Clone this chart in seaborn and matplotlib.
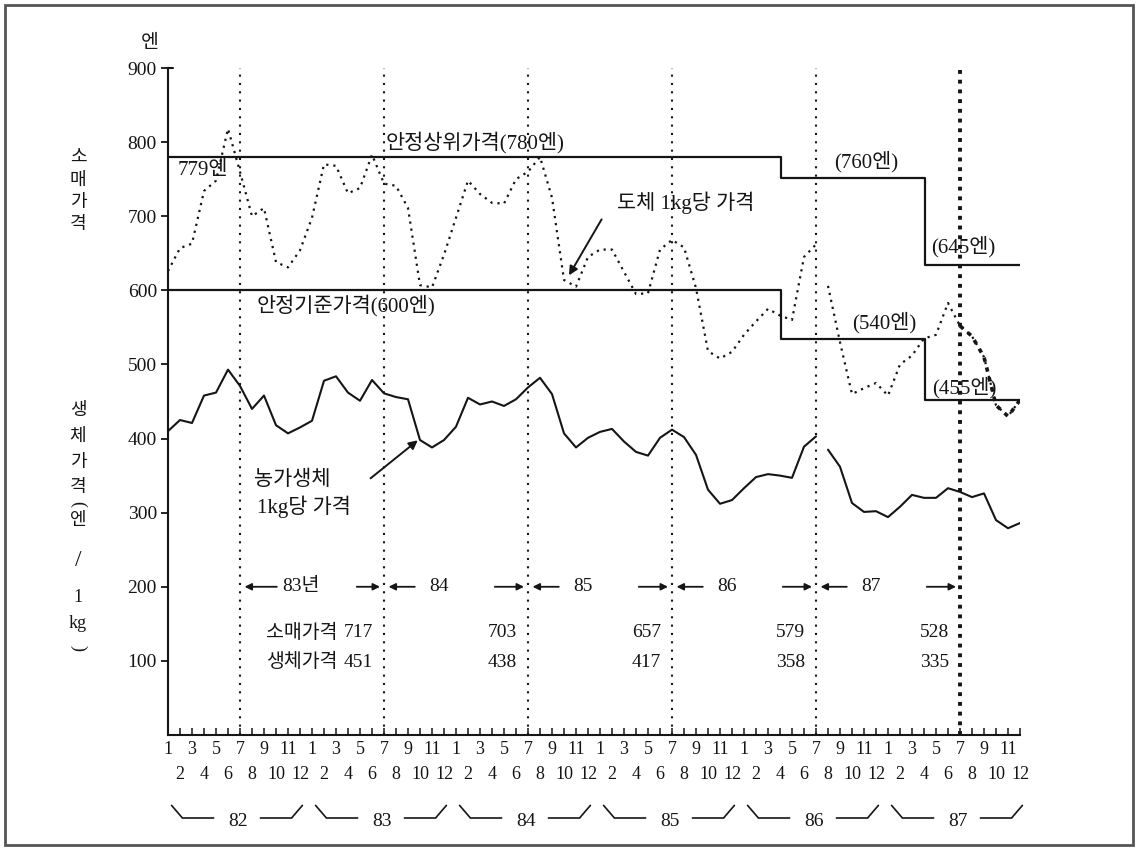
import numpy as np
import pandas as pd
import matplotlib.pyplot as plt
import seaborn as sns

# monthly prices, Jan 1982 .. Dec 1987 (엔)
year_names = ["82", "83", "84", "85", "86", "87"]
month_names = [str(m) for m in range(1, 13)]

# 도체 1kg당 가격 (retail, dotted)
retail = [626, 657, 663, 734, 748, 818, 760, 700, 711, 638, 631, 654,
          698, 770, 768, 731, 738, 783, 744, 741, 711, 607, 604, 648,
          698, 748, 730, 718, 717, 750, 760, 780, 725, 614, 605, 645,
          655, 655, 625, 595, 596, 655, 668, 658, 603, 518, 508, 517,
          540, 558, 575, 566, 560, 645, 662, 606, 530, 460, 468, 475,
          458, 500, 512, 535, 540, 583, 552, 538, 510, 445, 430, 452]

# 농가생체 1kg당 가격 (live weight, solid)
live = [410, 425, 421, 458, 462, 493, 471, 440, 458, 418, 407, 415,
        424, 478, 484, 462, 451, 479, 461, 456, 453, 398, 388, 398,
        416, 455, 446, 450, 444, 453, 469, 482, 460, 407, 388, 401,
        409, 413, 396, 382, 377, 401, 412, 402, 378, 331, 312, 317,
        333, 348, 352, 350, 347, 389, 403, 385, 362, 313, 301, 302,
        294, 308, 324, 320, 320, 333, 328, 321, 326, 290, 279, 286]

# 안정가격 steps (upper / lower), change points in month index
step_x = [0, 51.1, 63.1, 71]
upper_step = [780, 752, 634]
lower_step = [600, 535, 452]

# yearly averages (Jul..Jun)
avg_names = ["83년", "84", "85", "86", "87"]
avg_retail = [717, 703, 657, 579, 528]
avg_live = [451, 438, 417, 358, 335]

BREAK = 55  # lines are broken between 86-7 and 86-8

n = len(retail)
df = pd.DataFrame({
    "idx": np.arange(n),
    "retail": retail,
    "live": live,
    "seg": [0] * BREAK + [1] * (n - BREAK),
})

sns.set_theme(style="white")
plt.rcParams["font.family"] = ["Liberation Serif", "Noto Sans CJK KR"]
INK = "#151515"

fig = plt.figure(figsize=(11.39, 8.5), dpi=100)
ax = fig.add_axes([168 / 1139, 115 / 850, 852 / 1139, 667 / 850])
ax.set_xlim(0, 71)
ax.set_ylim(0, 900)

# price series
sns.lineplot(data=df, x="idx", y="live", units="seg", estimator=None,
             color=INK, lw=1.5, ax=ax)
sns.lineplot(data=df, x="idx", y="retail", units="seg", estimator=None,
             color=INK, lw=1.6, linestyle=(0, (1, 2.2)), ax=ax)
sns.lineplot(data=df[df.idx >= 66], x="idx", y="retail", estimator=None,
             color=INK, lw=2.6, linestyle=(0, (1.2, 1.6)), ax=ax)

# stabilisation price steps
ax.step(step_x, upper_step + upper_step[-1:], where="post", color=INK, lw=1.6)
ax.step(step_x, lower_step + lower_step[-1:], where="post", color=INK, lw=1.6)

# July dividers
july = [6 + 12 * k for k in range(len(year_names))]
for k, xv in enumerate(july):
    bold = k == len(july) - 1
    ax.axvline(xv, color=INK, lw=2.8 if bold else 1.5,
               ls=(0, (1, 1.5)) if bold else (0, (1, 3)))

# axes cosmetics
sns.despine(ax=ax)
for s in ["left", "bottom"]:
    ax.spines[s].set_linewidth(1.5)
    ax.spines[s].set_color(INK)
ax.set_xlabel("")
ax.set_ylabel("")
ax.set_yticks(range(100, 1000, 100), labels=[str(v) for v in range(100, 1000, 100)])
ax.tick_params(axis="y", direction="out", length=5, width=1.3, labelsize=14,
               pad=3, colors=INK, left=True)
ax.plot([0, 0.45], [900, 900], color=INK, lw=1.5, clip_on=False)

odd = list(range(0, n, 2))
even = list(range(1, n, 2))
ax.set_xticks(odd, labels=[month_names[i % 12] for i in odd])
ax.set_xticks(even, labels=[month_names[i % 12] for i in even], minor=True)
ax.tick_params(axis="x", which="both", direction="in", length=5, width=1.1,
               labelsize=13, colors=INK, bottom=True)
ax.tick_params(axis="x", which="major", pad=4)
ax.tick_params(axis="x", which="minor", pad=22)

# year brackets under the axis
for k, yr in enumerate(year_names):
    x0 = 12 * k
    ax.plot([x0 + 0.3, x0 + 1.2, x0 + 3.8], [-95, -112, -112], color=INK,
            lw=1.2, clip_on=False)
    ax.plot([x0 + 7.7, x0 + 10.3, x0 + 11.2], [-112, -112, -95], color=INK,
            lw=1.2, clip_on=False)
    ax.text(x0 + 5.8, -117, yr, ha="center", va="center", fontsize=14,
            color=INK, clip_on=False)

# text labels on the plot
tk = dict(fontsize=15, color=INK, va="center")
ax.text(0.8, 762, "779엔", **tk)
ax.text(18.1, 800, "안정상위가격(780엔)", **tk)
ax.text(7.4, 580, "안정기준가격(600엔)", **tk)
ax.text(55.5, 773, "(760엔)", **tk)
ax.text(63.6, 659, "(645엔)", **tk)
ax.text(57.0, 557, "(540엔)", **tk)
ax.text(63.65, 468, "(455엔)", **tk)
ax.text(37.4, 718, "도체 1kg당 가격", **tk)
ax.text(7.2, 344, "농가생체", **tk)
ax.text(7.4, 308, "1kg당 가격", **tk)

arr = dict(arrowstyle="-|>", color=INK, lw=1.4, mutation_scale=13)
ax.annotate("", xy=(33.3, 617), xytext=(36.25, 699), arrowprops=arr)
ax.annotate("", xy=(21.0, 400), xytext=(16.7, 344), arrowprops=arr)

# yearly average block
small = dict(arrowstyle="-|>", color=INK, lw=1.3, mutation_scale=10)
for k, name in enumerate(avg_names):
    left, right = july[k], july[k + 1]
    tx = left + 5.1 if k == 0 else left + 4.6
    ax.text(tx, 200, name, ha="center", va="center", fontsize=14, color=INK)
    ax.annotate("", xy=(left + 0.15, 200), xytext=(tx - 1.8, 200), arrowprops=small)
    ax.annotate("", xy=(right - 0.1, 200), xytext=(tx + 4.4, 200), arrowprops=small)
    ax.text(right - 0.9, 138, str(avg_retail[k]), ha="right", va="center",
            fontsize=14, color=INK)
    ax.text(right - 0.9, 98, str(avg_live[k]), ha="right", va="center",
            fontsize=14, color=INK)
ax.text(july[1] - 3.9, 138, "소매가격", ha="right", va="center", fontsize=14, color=INK)
ax.text(july[1] - 3.9, 98, "생체가격", ha="right", va="center", fontsize=14, color=INK)

# axis captions (vertical stacked)
def ftext(px, py, s, rot=0, size=13):
    fig.text(px / 1139, 1 - py / 850, s, ha="center", va="center",
             fontsize=size, color=INK, rotation=rot)

ftext(150, 43, "엔", size=14)
for ch, py in zip("소매가격", [158, 180, 203, 225]):
    ftext(78, py, ch)
cap = [("생", 410, 0), ("체", 436, 0), ("가", 462, 0), ("격", 487, 0),
       ("(", 504, -90), ("엔", 521, 0), ("/", 560, 0), ("1", 598, 0),
       ("kg", 624, 0), (")", 648, -90)]
for ch, py, rot in cap:
    ftext(78, py, ch, rot=rot, size=17 if ch == "/" else 13)

# page frame
fig.add_artist(plt.Rectangle((5 / 1139, 5 / 850), 1128 / 1139, 840 / 850,
                             transform=fig.transFigure, fill=False,
                             lw=2, ec="#555555"))

fig.savefig("out.png", dpi=100)
plt.close(fig)
